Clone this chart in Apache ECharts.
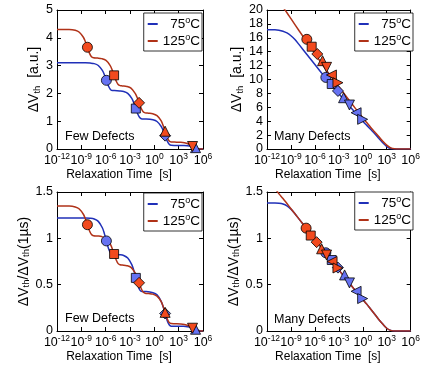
<!DOCTYPE html>
<html><head><meta charset="utf-8">
<script src="https://cdn.jsdelivr.net/npm/echarts@6/dist/echarts.min.js"></script>
<style>html,body{margin:0;padding:0;background:#fff}#c{width:423px;height:367px}</style>
</head><body><div id="c"></div><script>
// x values are log10(relaxation time / s)
const xTickExponents = [-12, -9, -6, -3, 0, 3, 6];
const seriesNames = ['75°C', '125°C'];

// ---- Few defects, absolute (a.u.) ----
const fewAbs75 = [[-12,3.10],[-8.5,3.10],[-7.91,3.09],[-7.41,3.07],[-6.91,3.005],[-6.41,2.83],[-6.16,2.67],[-5.91,2.47],[-5.66,2.27],[-5.41,2.14],[-5.16,2.10],[-4.91,2.10],[-4.28,2.09],[-3.78,2.07],[-3.28,2.00],[-2.78,1.82],[-2.53,1.66],[-2.28,1.455],[-2.03,1.25],[-1.78,1.12],[-1.53,1.083],[-1.0,1.08],[-0.17,1.05],[0.33,0.99],[0.83,0.82],[1.08,0.67],[1.33,0.48],[1.58,0.29],[1.83,0.17],[2.08,0.133],[2.58,0.13],[3.08,0.129],[3.58,0.126],[4.08,0.118],[4.58,0.095],[4.83,0.074],[5.08,0.048],[5.33,0.022],[5.58,0.005],[6,0]];
const fewAbs125 = [[-12,4.30],[-10.5,4.30],[-9.75,4.27],[-9.25,4.20],[-8.75,4.02],[-8.5,3.86],[-8.25,3.66],[-8.0,3.45],[-7.75,3.32],[-7.5,3.28],[-7.0,3.27],[-6.5,3.25],[-5.96,3.185],[-5.46,3.01],[-5.21,2.85],[-4.96,2.65],[-4.71,2.45],[-4.46,2.32],[-4.21,2.28],[-3.96,2.27],[-3.4,2.25],[-2.88,2.19],[-2.38,2.01],[-2.13,1.86],[-1.88,1.66],[-1.63,1.47],[-1.38,1.34],[-1.13,1.30],[-0.7,1.29],[-0.2,1.27],[0.33,1.20],[0.83,1.02],[1.08,0.85],[1.33,0.64],[1.58,0.43],[1.83,0.29],[2.08,0.254],[2.5,0.249],[3.2,0.242],[3.71,0.226],[4.21,0.182],[4.46,0.14],[4.71,0.092],[4.96,0.042],[5.21,0.010],[5.46,0.001],[6,0]];
const fewAbsMarks75 = [[-5.91,2.47],[-2.28,1.455],[1.33,0.48],[5.08,0.048]];
const fewAbsMarks125 = [[-8.25,3.66],[-4.96,2.65],[-1.88,1.66],[1.33,0.64],[4.71,0.09]];
const fewAbsShapes75 = ['o','s','d','^'];
const fewAbsShapes125 = ['o','s','d','^','v'];

// ---- Many defects, absolute (a.u.) ----
const manyAbs75 = [[-12,17.15],[-11,17.15],[-10.5,17.1],[-10,16.95],[-9.5,16.7],[-9,16.3],[-8.5,15.75],[-8,15.05],[-7,13.6],[-6,12.15],[-5,10.7],[-4,9.3],[-3,7.95],[-2,6.6],[-1,5.3],[0,4.0],[0.5,3.4],[1,2.8],[1.5,2.2],[2,1.55],[2.5,0.9],[3,0.35],[3.5,0.08],[4,0.01],[4.5,0],[6,0]];
const manyAbs125 = [[-10.5,21.2],[-10,20.4],[-9.5,19.6],[-9,18.75],[-8,17.05],[-7,15.4],[-6,13.75],[-5,12.05],[-4,10.45],[-3,8.95],[-2,7.45],[-1,5.95],[0,4.5],[0.5,3.8],[1,3.1],[1.5,2.45],[2,1.8],[2.5,1.12],[3,0.55],[3.5,0.17],[4,0.03],[4.5,0],[6,0]];
const manyAbsMarks75 = [[-4.63,10.3],[-3.89,9.35],[-3.11,8.35],[-2.41,7.38],[-1.67,6.33],[-0.84,5.22],[-0.02,4.27]];
const manyAbsMarks125 = [[-7.01,15.78],[-6.40,14.72],[-5.70,13.67],[-5.04,12.71],[-4.54,11.75],[-3.93,10.65],[-3.11,9.54]];
const manyShapes = ['o','s','d','^','v','<','>'];

// ---- Few defects, normalised to dVth(1 us) ----
const fewNorm75 = [[-12,1.220],[-8.5,1.219],[-7.91,1.217],[-7.41,1.209],[-6.91,1.183],[-6.41,1.114],[-6.16,1.051],[-5.91,0.972],[-5.66,0.894],[-5.41,0.843],[-5.16,0.827],[-4.91,0.827],[-4.28,0.823],[-3.78,0.815],[-3.28,0.787],[-2.78,0.717],[-2.53,0.654],[-2.28,0.573],[-2.03,0.492],[-1.78,0.441],[-1.53,0.426],[-1.0,0.425],[-0.17,0.413],[0.33,0.390],[0.83,0.323],[1.08,0.264],[1.33,0.189],[1.58,0.114],[1.83,0.067],[2.08,0.052],[2.58,0.051],[3.08,0.051],[3.58,0.050],[4.08,0.046],[4.58,0.037],[4.83,0.029],[5.08,0.019],[5.33,0.009],[5.58,0.002],[6,0]];
const fewNorm125 = [[-12,1.348],[-10.5,1.348],[-9.75,1.339],[-9.25,1.317],[-8.75,1.260],[-8.5,1.210],[-8.25,1.147],[-8.0,1.082],[-7.75,1.041],[-7.5,1.028],[-7.0,1.025],[-6.5,1.019],[-5.96,0.998],[-5.46,0.944],[-5.21,0.893],[-4.96,0.831],[-4.71,0.768],[-4.46,0.727],[-4.21,0.715],[-3.96,0.712],[-3.4,0.705],[-2.88,0.687],[-2.38,0.630],[-2.13,0.583],[-1.88,0.520],[-1.63,0.461],[-1.38,0.420],[-1.13,0.408],[-0.7,0.404],[-0.2,0.398],[0.33,0.376],[0.83,0.320],[1.08,0.266],[1.33,0.201],[1.58,0.135],[1.83,0.091],[2.08,0.080],[2.5,0.078],[3.2,0.076],[3.71,0.071],[4.21,0.057],[4.46,0.044],[4.71,0.029],[4.96,0.013],[5.21,0.003],[5.46,0],[6,0]];
const fewNormMarks75 = [[-5.91,0.972],[-2.28,0.573],[1.33,0.189],[5.08,0.019]];
const fewNormMarks125 = [[-8.25,1.147],[-4.96,0.831],[-1.88,0.520],[1.33,0.201],[4.71,0.03]];

// ---- Many defects, normalised ----
const manyNorm75 = [[-12,1.38],[-11,1.38],[-10.5,1.378],[-10,1.37],[-9.5,1.35],[-9,1.315],[-8.5,1.265],[-8,1.21],[-7,1.10],[-6,0.99],[-5,0.88],[-4,0.77],[-3,0.66],[-2,0.55],[-1,0.445],[0,0.34],[0.5,0.29],[1,0.235],[1.5,0.18],[2,0.125],[2.5,0.075],[3,0.03],[3.5,0.007],[4,0],[6,0]];
const manyNorm125 = [[-11,1.54],[-10.5,1.48],[-10,1.43],[-9.5,1.375],[-9,1.32],[-8,1.21],[-7,1.10],[-6,0.99],[-5,0.88],[-4,0.77],[-3,0.66],[-2,0.55],[-1,0.445],[0,0.34],[0.5,0.29],[1,0.235],[1.5,0.18],[2,0.125],[2.5,0.075],[3,0.03],[3.5,0.007],[4,0],[6,0]];
const manyNormMarks75 = [[-4.63,0.844],[-3.89,0.766],[-3.11,0.684],[-2.28,0.605],[-1.67,0.519],[-0.84,0.428],[-0.02,0.35]];
const manyNormMarks125 = [[-7.1,1.11],[-6.52,1.03],[-5.78,0.959],[-5.16,0.887],[-4.54,0.82],[-3.85,0.75],[-3.11,0.68]];

const yRanges = [[0,5,1],[0,20,2],[0,1.5,0.5],[0,1.5,0.5]];
const panelText = ['Few Defects','Many Defects','Few Defects','Many Defects'];

const FONT = '"Liberation Sans", Arial, Helvetica, sans-serif';
const LINE75 = '#2030b8', LINE125 = '#b03218';
const MARK75 = '#6672f2', MARK125 = '#f24a1e';
const SHAPES = {o:['circle',0,10], s:['rect',0,9], d:['diamond',0,11], '^':['triangle',0,10], v:['triangle',180,10], '<':['triangle',90,10], '>':['triangle',-90,10]};

const grids = [
  {left:57, top:10, width:146, height:139},
  {left:267, top:10, width:146, height:139},
  {left:57, top:192, width:146, height:139},
  {left:267, top:192, width:146, height:139}
];
const yNames = ['ΔV{sub|th}  [a.u.]','ΔV{sub|th}  [a.u.]','ΔV{sub|th}/ΔV{sub|th}(1µs)','ΔV{sub|th}/ΔV{sub|th}(1µs)'];
const yNameGaps = [12, 17, 19, 19];

const xAxis = [], yAxis = [];
grids.forEach((g, gi) => {
  const tick = {inside:true, length:4, lineStyle:{color:'#000', width:1}};
  const line = {show:true, onZero:false, lineStyle:{color:'#000', width:1}};
  xAxis.push({type:'value', gridIndex:gi, min:xTickExponents[0], max:xTickExponents[xTickExponents.length-1], interval:3,
    axisLine:line, axisTick:tick, splitLine:{show:false},
    axisLabel:{margin:3, showMinLabel:true, showMaxLabel:true, hideOverlap:false, formatter: v => '{b|10}{s|' + v + '}',
      rich:{b:{fontSize:12.5, lineHeight:18, color:'#000', fontFamily:FONT}, s:{fontSize:8.5, lineHeight:8, verticalAlign:'top', color:'#000', fontFamily:FONT}}},
    name:'Relaxation Time  [s]', nameLocation:'middle', nameGap:17,
    nameTextStyle:{fontSize:12, color:'#000', fontFamily:FONT, padding:[0,22,0,0]}});
  xAxis.push({type:'value', gridIndex:gi, position:'top', min:xTickExponents[0], max:xTickExponents[xTickExponents.length-1], interval:3,
    axisLine:line, axisTick:tick, axisLabel:{show:false}, splitLine:{show:false}});
  const yr = yRanges[gi];
  yAxis.push({type:'value', gridIndex:gi, min:yr[0], max:yr[1], interval:yr[2],
    axisLine:line, axisTick:tick, splitLine:{show:false},
    axisLabel:{margin:4, fontSize:12.5, color:'#000', fontFamily:FONT, showMinLabel:true, showMaxLabel:true, hideOverlap:false},
    name:yNames[gi], nameLocation:'middle', nameRotate:90, nameGap:yNameGaps[gi],
    nameTextStyle:{fontSize:14, color:'#000', fontFamily:FONT, lineHeight:16,
      rich:{sub:{fontSize:9.5, lineHeight:8, verticalAlign:'bottom', color:'#000', fontFamily:FONT}}}});
  yAxis.push({type:'value', gridIndex:gi, position:'right', min:yr[0], max:yr[1], interval:yr[2],
    axisLine:line, axisTick:tick, axisLabel:{show:false}, splitLine:{show:false}});
});

const lineSets = [[fewAbs75, fewAbs125],[manyAbs75, manyAbs125],[fewNorm75, fewNorm125],[manyNorm75, manyNorm125]];
const markSets = [[fewAbsMarks75, fewAbsMarks125],[manyAbsMarks75, manyAbsMarks125],[fewNormMarks75, fewNormMarks125],[manyNormMarks75, manyNormMarks125]];
const shapeSets = [[fewAbsShapes75, fewAbsShapes125],[manyShapes, manyShapes],[fewAbsShapes75, fewAbsShapes125],[manyShapes, manyShapes]];

const series = [];
grids.forEach((g, gi) => {
  [0,1].forEach(k => {
    series.push({type:'line', name:seriesNames[k], xAxisIndex:gi*2, yAxisIndex:gi*2, data:lineSets[gi][k],
      smooth:0.35, showSymbol:false, symbol:'none', clip:true, z:2+k,
      lineStyle:{color:k?LINE125:LINE75, width:1.5}, itemStyle:{color:k?LINE125:LINE75}});
  });
});
grids.forEach((g, gi) => {
  [0,1].forEach(k => {
    const shapes = shapeSets[gi][k];
    series.push({type:'scatter', name:seriesNames[k] + ' data', xAxisIndex:gi*2, yAxisIndex:gi*2, z:5+k,
      data: markSets[gi][k].map((p, i) => {
        const sh = SHAPES[shapes[i]];
        return {value:p, symbol:sh[0], symbolRotate:sh[1], symbolSize:sh[2]};
      }),
      itemStyle:{color:k?MARK125:MARK75, borderColor:'#000', borderWidth:0.8, opacity:1}});
  });
});

const legendPos = [{right:221, top:13},{right:10, top:13},{right:221, top:193},{right:10, top:192}];
const legend = legendPos.map(p => ({
  show:true, orient:'vertical', right:p.right, top:p.top, data:seriesNames,
  icon:'rect', itemWidth:10, itemHeight:2, itemGap:2, padding:[3,2,3,4],
  borderColor:'#000', borderWidth:0.8, backgroundColor:'#fff', selectedMode:false,
  formatter: n => n === '75°C' ? '{n|\u200775}{s|o}{n|C}' : '{n|125}{s|o}{n|C}',
  textStyle:{fontSize:13, color:'#000', fontFamily:FONT,
    rich:{n:{fontSize:13.5, lineHeight:16, color:'#000', fontFamily:FONT}, s:{fontSize:9, lineHeight:8, verticalAlign:'top', color:'#000', fontFamily:FONT}}}
}));

const textPos = [[65,130],[274,130],[65,312],[274,313]];
const graphic = textPos.map((p, i) => ({type:'text', left:p[0], top:p[1], z:10,
  style:{text:panelText[i], fontSize:12.5, fill:'#000', fontFamily:FONT}}));

const chart = echarts.init(document.getElementById('c'), null, {renderer:'canvas'});
chart.setOption({animation:false, backgroundColor:'#fff', grid:grids, xAxis, yAxis, series, legend, graphic});
</script></body></html>
